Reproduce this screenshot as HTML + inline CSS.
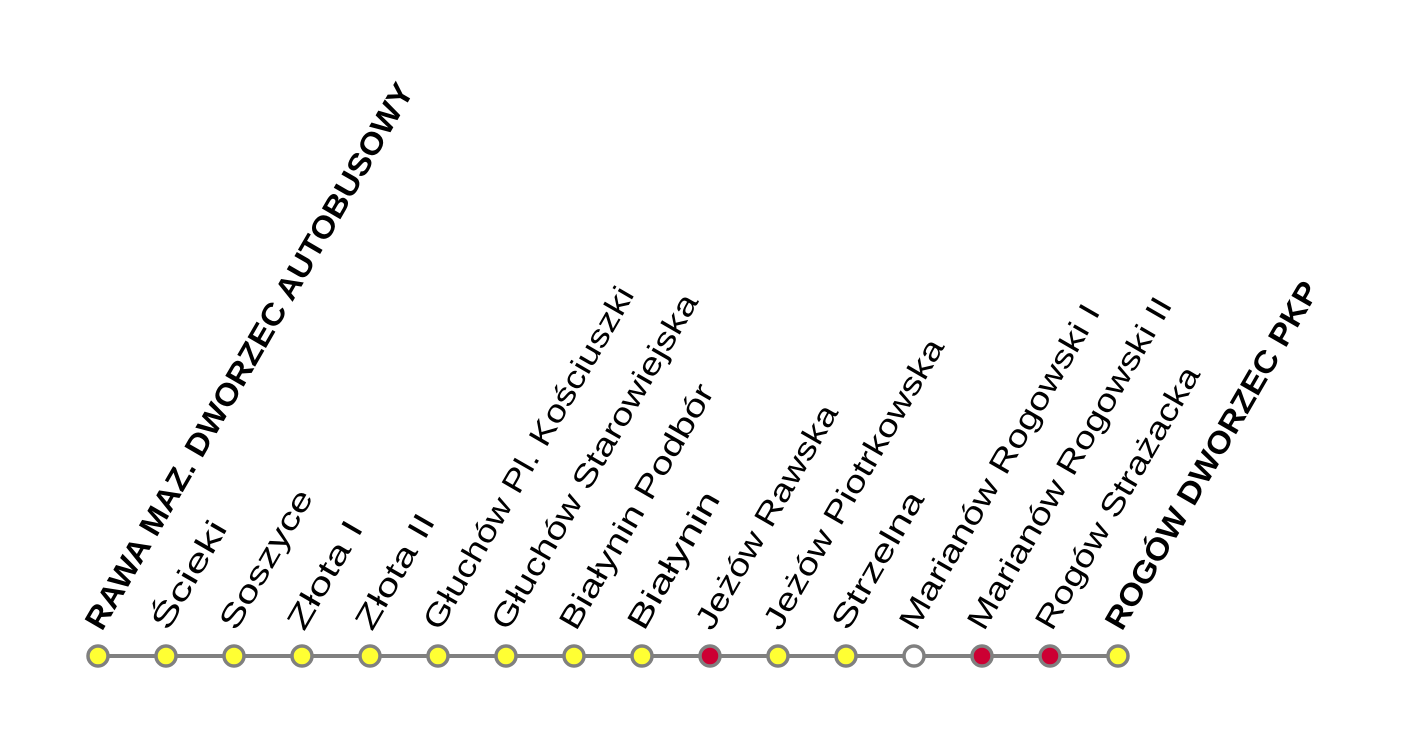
<!DOCTYPE html>
<html><head><meta charset="utf-8"><style>html,body{margin:0;padding:0;background:#fff}svg{display:block}</style></head>
<body>
<svg width="1409" height="748" xmlns="http://www.w3.org/2000/svg" font-family="Liberation Sans, sans-serif" font-size="31">
<line x1="98" y1="656" x2="1118" y2="656" stroke="#808080" stroke-width="4"/>
<g stroke="#808080" stroke-width="3.5">
<circle cx="98" cy="656" r="10" fill="#ffff33"/>
<circle cx="166" cy="656" r="10" fill="#ffff33"/>
<circle cx="234" cy="656" r="10" fill="#ffff33"/>
<circle cx="302" cy="656" r="10" fill="#ffff33"/>
<circle cx="370" cy="656" r="10" fill="#ffff33"/>
<circle cx="438" cy="656" r="10" fill="#ffff33"/>
<circle cx="506" cy="656" r="10" fill="#ffff33"/>
<circle cx="574" cy="656" r="10" fill="#ffff33"/>
<circle cx="642" cy="656" r="10" fill="#ffff33"/>
<circle cx="710" cy="656" r="10" fill="#cc0033"/>
<circle cx="778" cy="656" r="10" fill="#ffff33"/>
<circle cx="846" cy="656" r="10" fill="#ffff33"/>
<circle cx="914" cy="656" r="10" fill="#ffffff"/>
<circle cx="982" cy="656" r="10" fill="#cc0033"/>
<circle cx="1050" cy="656" r="10" fill="#cc0033"/>
<circle cx="1118" cy="656" r="10" fill="#ffff33"/>
</g>
<g fill="#000">
<text transform="translate(102,632) rotate(-60)" font-weight="bold" textLength="625" lengthAdjust="spacingAndGlyphs">RAWA MAZ. DWORZEC AUTOBUSOWY</text>
<text transform="translate(168,632) rotate(-60)" textLength="120" lengthAdjust="spacingAndGlyphs">Ścieki</text>
<text transform="translate(236,632) rotate(-60)" textLength="156" lengthAdjust="spacingAndGlyphs">Soszyce</text>
<text transform="translate(304,632) rotate(-60)" textLength="120" lengthAdjust="spacingAndGlyphs">Złota I</text>
<text transform="translate(372,632) rotate(-60)" textLength="128" lengthAdjust="spacingAndGlyphs">Złota II</text>
<text transform="translate(440,632) rotate(-60)" textLength="390" lengthAdjust="spacingAndGlyphs">Głuchów Pl. Kościuszki</text>
<text transform="translate(508,632) rotate(-60)" textLength="382" lengthAdjust="spacingAndGlyphs">Głuchów Starowiejska</text>
<text transform="translate(576,632) rotate(-60)" textLength="278" lengthAdjust="spacingAndGlyphs">Białynin Podbór</text>
<text transform="translate(644,632) rotate(-60)" textLength="154" lengthAdjust="spacingAndGlyphs">Białynin</text>
<text transform="translate(712,632) rotate(-60)" textLength="254" lengthAdjust="spacingAndGlyphs">Jeżów Rawska</text>
<text transform="translate(780,632) rotate(-60)" textLength="330" lengthAdjust="spacingAndGlyphs">Jeżów Piotrkowska</text>
<text transform="translate(848,632) rotate(-60)" textLength="154" lengthAdjust="spacingAndGlyphs">Strzelna</text>
<text transform="translate(916,632) rotate(-60)" textLength="370" lengthAdjust="spacingAndGlyphs">Marianów Rogowski I</text>
<text transform="translate(984,632) rotate(-60)" textLength="378" lengthAdjust="spacingAndGlyphs">Marianów Rogowski II</text>
<text transform="translate(1052,632) rotate(-60)" textLength="298" lengthAdjust="spacingAndGlyphs">Rogów Strażacka</text>
<text transform="translate(1122,632) rotate(-60)" font-weight="bold" textLength="396" lengthAdjust="spacingAndGlyphs">ROGÓW DWORZEC PKP</text>
</g>
</svg>
</body></html>
